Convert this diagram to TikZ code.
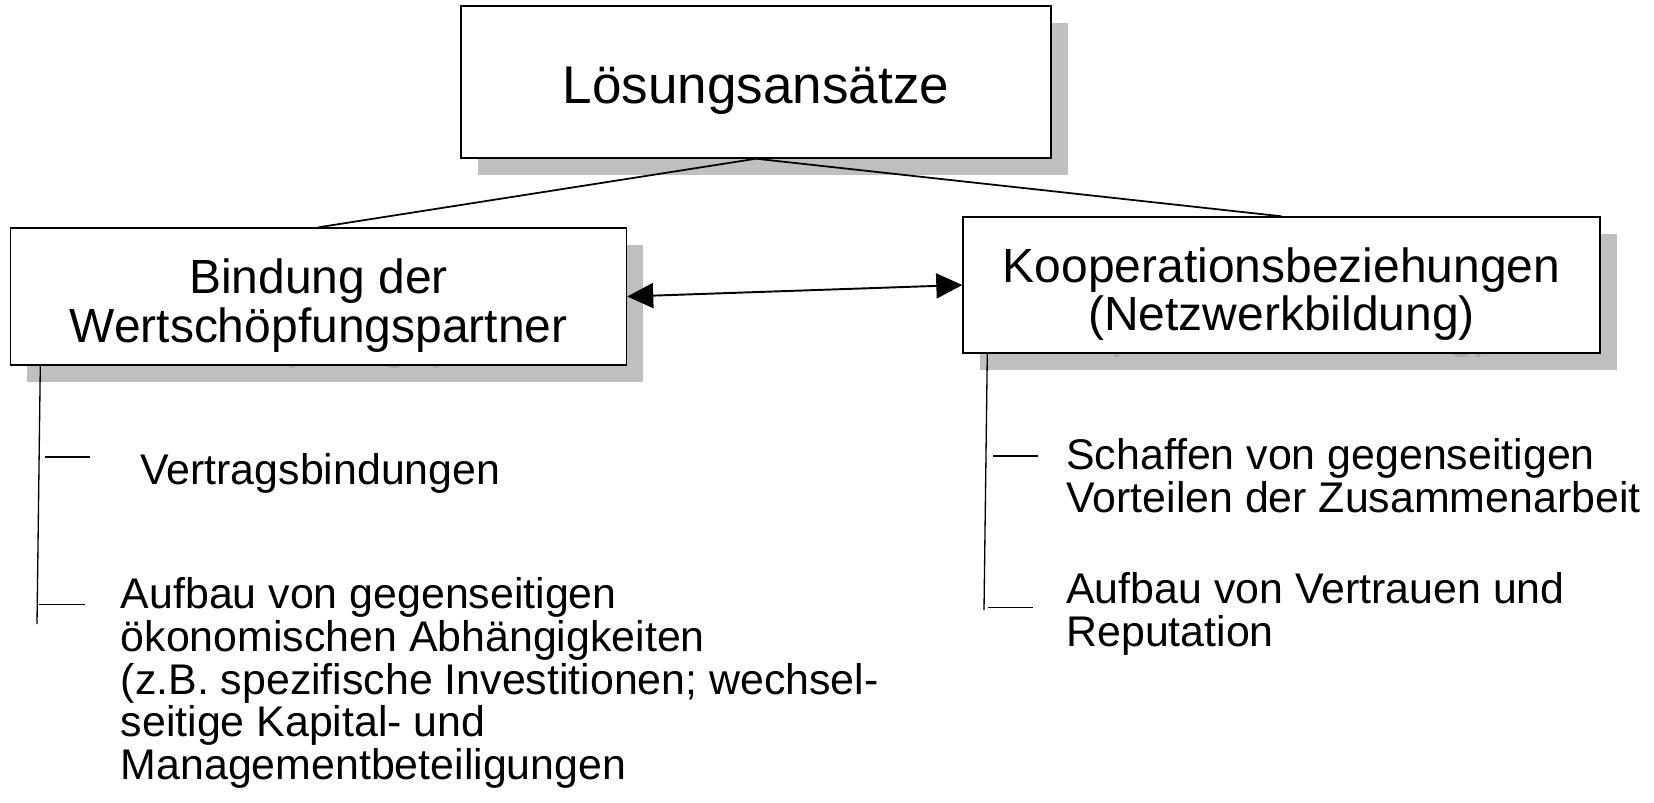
\documentclass[tikz,border=0pt]{standalone}
\usepackage{fontspec}
\setmainfont{Liberation Sans}
\usepackage{tikz}
\usetikzlibrary{arrows.meta,positioning}
\definecolor{lsgShadow}{HTML}{BFBFBF}
\definecolor{lsgGhost}{HTML}{A8A8A8}
\tikzset{
    box/.style={draw=black, line width=0.8pt, fill=white, align=center, inner sep=0pt, text=black},
    boxshade/.style={fill=lsgShadow, align=center, inner sep=0pt, text=lsgGhost},
    topfont/.style={font=\fontsize{30.2}{36}\selectfont, text height=0.87cm, text depth=0cm},
    boxfont/.style={font=\fontsize{27.3}{27.6}\selectfont, text height=1.83cm, text depth=0cm},
    link/.style={line width=1pt, draw=black},
    tick/.style={line width=0.75pt, draw=black},
    biarrow/.style={{Triangle[length=5.2mm,width=5mm]}-{Triangle[length=5.2mm,width=5mm]}, line width=1.1pt, draw=black},
    item/.style={anchor=base west, align=left, inner sep=0pt, font=\fontsize{24.4}{24.3}\selectfont}
}

\begin{document}
\begin{tikzpicture}
    \useasboundingbox (0,0) rectangle (33.08,-16.04);
    % shadows first
    \node[boxshade, topfont, minimum width=11.8cm, minimum height=3.04cm] (loes-sh) at (15.45,-1.97) {Lösungsansätze};
    \node[boxshade, boxfont, minimum width=12.32cm, minimum height=2.74cm] (bind-sh) at (6.70,-6.26) {Bindung der\\Wertschöpfungspartner};
    \node[boxshade, boxfont, minimum width=12.74cm, minimum height=2.72cm] (koop-sh) at (25.96,-6.03) {Kooperationsbeziehungen\\(Netzwerkbildung)};
    % boxes
    \node[box, topfont, minimum width=11.8cm, minimum height=3.04cm] (loes) at (15.12,-1.64) {Lösungsansätze};
    \node[box, boxfont, minimum width=12.32cm, minimum height=2.74cm] (bind) at (6.37,-5.93) {Bindung der\\Wertschöpfungspartner};
    \node[box, boxfont, minimum width=12.74cm, minimum height=2.72cm] (koop) at (25.63,-5.70) {Kooperationsbeziehungen\\(Netzwerkbildung)};
    \draw[link] (loes.south) -- (bind.north);
    \draw[link] (loes.south) -- (koop.north);
    \draw[biarrow] (bind.east) -- (koop.west);
    % left list
    \coordinate (bind-end) at (0.74,-12.48);
    \coordinate (t1a) at (0.90,-9.14);
    \coordinate (t1b) at (1.80,-9.14);
    \coordinate (t2a) at (0.78,-12.09);
    \coordinate (t2b) at (1.70,-12.09);
    \draw[tick] ([xshift=6.1mm]bind.south west) -- (bind-end);
    \draw[tick] (t1a) -- (t1b);
    \draw[tick] (t2a) -- (t2b);
    \node[item] (vertrag) at (2.80,-9.68) {Vertragsbindungen};
    \node[item] (abhaeng) at (2.41,-15.59) {Aufbau von gegenseitigen\\ökonomischen Abhängigkeiten\\(z.B. spezifische Investitionen; wechsel-\\seitige Kapital- und\\Managementbeteiligungen};
    % right list
    \coordinate (koop-end) at (19.68,-12.20);
    \coordinate (t3a) at (19.86,-9.12);
    \coordinate (t3b) at (20.76,-9.12);
    \coordinate (t4a) at (19.76,-12.15);
    \coordinate (t4b) at (20.66,-12.15);
    \draw[tick] ([xshift=5mm]koop.south west) -- (koop-end);
    \draw[tick] (t3a) -- (t3b);
    \draw[tick] (t4a) -- (t4b);
    \node[item] (vorteil) at (21.32,-10.25) {Schaffen von gegenseitigen\\Vorteilen der Zusammenarbeit};
    \node[item] (vertrauen) at (21.32,-12.92) {Aufbau von Vertrauen und\\Reputation};
\end{tikzpicture}
\end{document}
